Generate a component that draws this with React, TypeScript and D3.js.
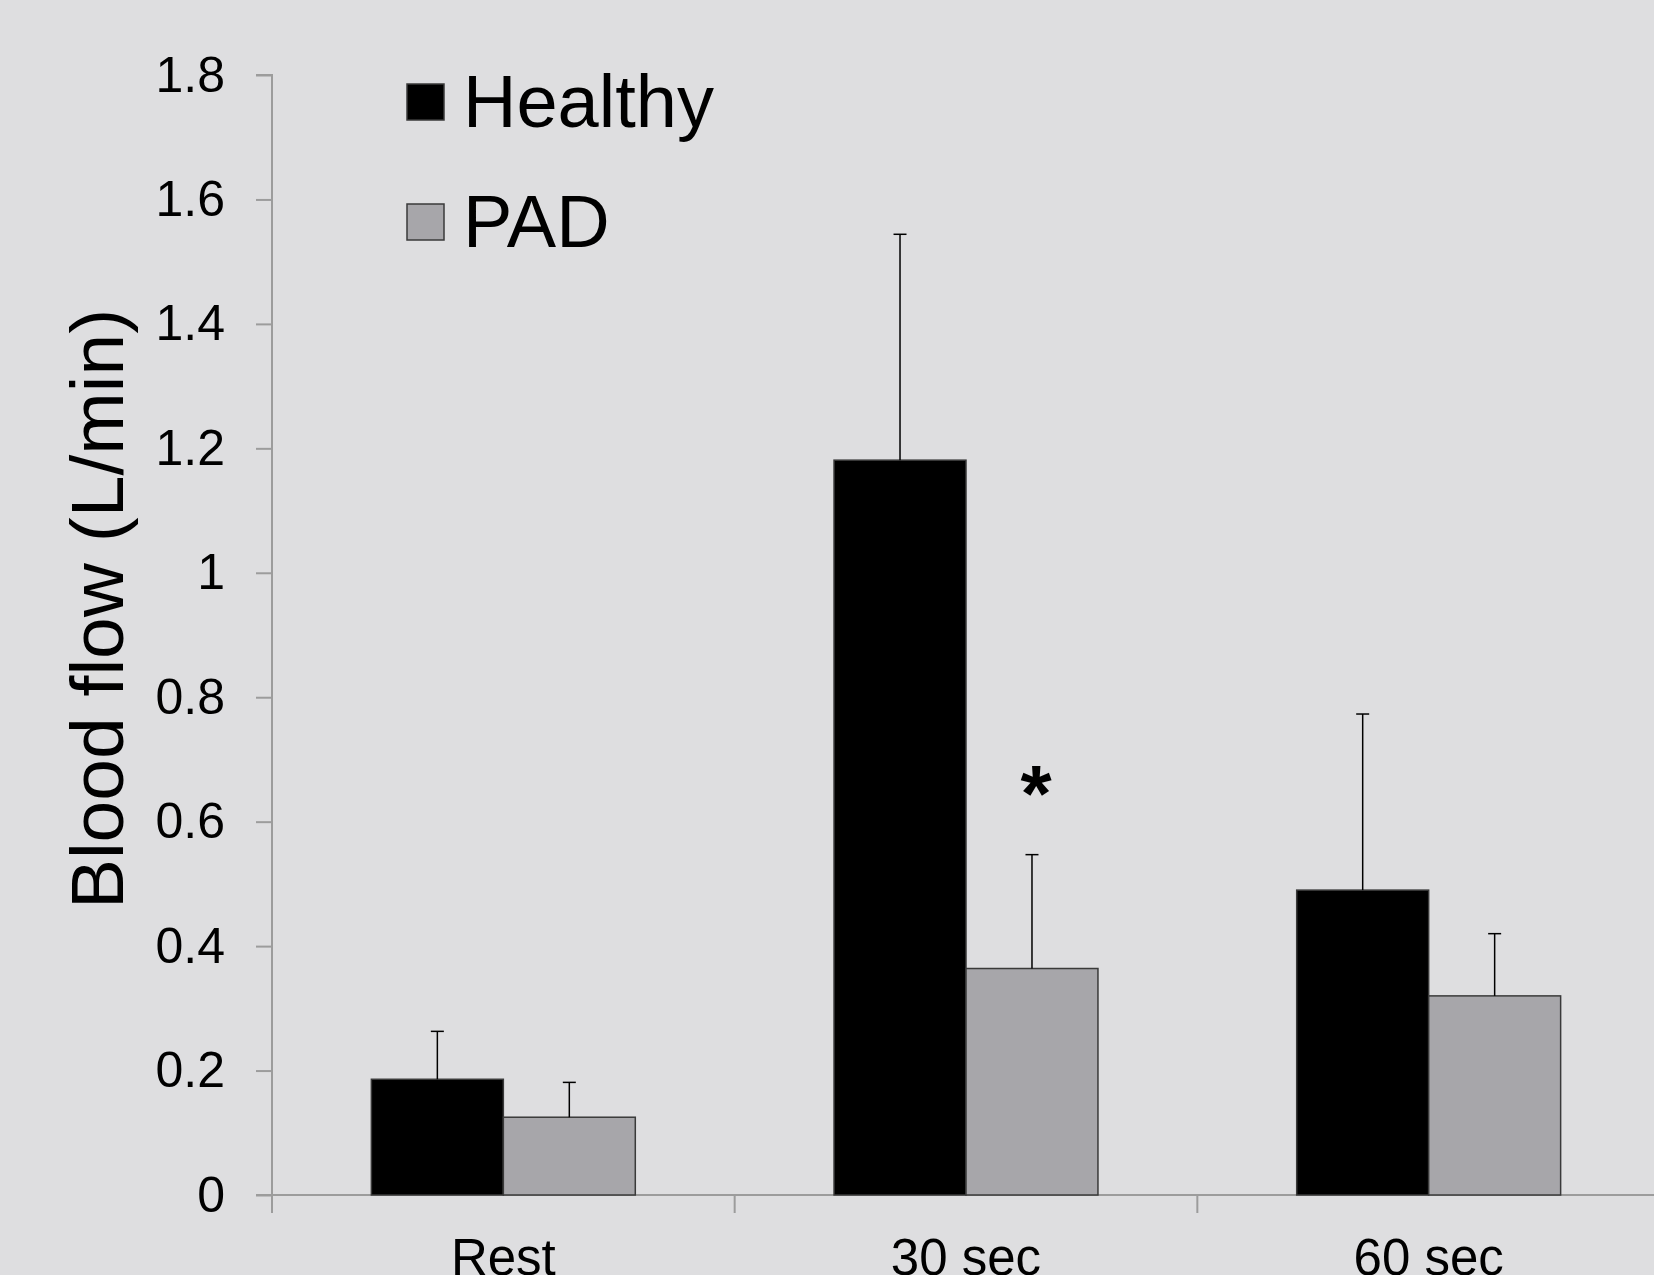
import { useEffect, useRef } from "react";
import * as d3 from "d3";

// data
const categories = ["Rest", "30 sec", "60 sec"];
const groups = ["Healthy", "PAD"];
const healthyMeans = [0.186, 1.181, 0.49];
const healthyErr = [0.077, 0.363, 0.283];
const padMeans = [0.125, 0.364, 0.32];
const padErr = [0.056, 0.183, 0.1];
const yTicks = [0, 0.2, 0.4, 0.6, 0.8, 1, 1.2, 1.4, 1.6, 1.8];
const significant = [{ category: "30 sec", group: "PAD" }];

const WIDTH = 1654;
const HEIGHT = 1275;
const BG = "#dedee0";
const AXIS = "#9c9c9c";
const colors = { Healthy: "#000000", PAD: "#a7a6aa" };
const FONT = "'Liberation Sans', Arial, sans-serif";

export default function App() {
  const ref = useRef<SVGSVGElement>(null);

  useEffect(() => {
    const svg = d3.select(ref.current);
    svg.selectAll("*").remove();

    svg.append("rect").attr("width", WIDTH).attr("height", HEIGHT).attr("fill", BG);

    const x0 = d3.scaleBand().domain(categories).range([272, 1660]).padding(0);
    const x1 = d3
      .scaleBand()
      .domain(groups)
      .range([0, x0.bandwidth()])
      .paddingInner(0)
      .paddingOuter(0.753);
    const y = d3.scaleLinear().domain([0, 1.8]).range([1195, 75]);

    const rows = categories.flatMap((c, i) => [
      { category: c, group: "Healthy", value: healthyMeans[i], err: healthyErr[i] },
      { category: c, group: "PAD", value: padMeans[i], err: padErr[i] },
    ]);

    // y axis
    const yAxis = svg
      .append("g")
      .attr("transform", `translate(${x0.range()[0]},0)`)
      .call(d3.axisLeft(y).tickValues(yTicks).tickSize(16).tickPadding(31).tickFormat(d3.format("~g")));
    yAxis.select(".domain").attr("stroke", AXIS).attr("stroke-width", 2).attr("d", `M-16,${y(1.8)}H0V${y(0)}`);
    yAxis.selectAll(".tick line").attr("stroke", AXIS).attr("stroke-width", 2);
    yAxis
      .selectAll(".tick text")
      .attr("fill", "#000")
      .style("font-family", FONT)
      .style("font-size", "50px");

    // x axis (category boundaries ticks)
    svg
      .append("line")
      .attr("x1", x0.range()[0] - 16)
      .attr("x2", WIDTH)
      .attr("y1", y(0))
      .attr("y2", y(0))
      .attr("stroke", AXIS)
      .attr("stroke-width", 2);
    svg
      .append("g")
      .selectAll("line")
      .data(categories)
      .join("line")
      .attr("x1", (d) => x0(d)!)
      .attr("x2", (d) => x0(d)!)
      .attr("y1", y(0))
      .attr("y2", y(0) + 18)
      .attr("stroke", AXIS)
      .attr("stroke-width", 2);
    svg
      .append("g")
      .selectAll("text")
      .data(categories)
      .join("text")
      .attr("x", (d) => x0(d)! + x0.bandwidth() / 2)
      .attr("y", 1275)
      .attr("text-anchor", "middle")
      .style("font-family", FONT)
      .style("font-size", "51px")
      .text((d) => d);

    // bars
    svg
      .append("g")
      .selectAll("rect")
      .data(rows)
      .join("rect")
      .attr("x", (d) => x0(d.category)! + x1(d.group)!)
      .attr("y", (d) => y(d.value))
      .attr("width", x1.bandwidth())
      .attr("height", (d) => y(0) - y(d.value))
      .attr("fill", (d) => colors[d.group])
      .attr("stroke", "#3a3a3a")
      .attr("stroke-width", 1.5);

    // error bars (upper only)
    const eb = svg.append("g").attr("stroke", "#000").attr("stroke-width", 1.5);
    rows.forEach((d) => {
      const cx = x0(d.category)! + x1(d.group)! + x1.bandwidth() / 2;
      eb.append("line").attr("x1", cx).attr("x2", cx).attr("y1", y(d.value)).attr("y2", y(d.value + d.err));
      eb.append("line")
        .attr("x1", cx - 6.5)
        .attr("x2", cx + 6.5)
        .attr("y1", y(d.value + d.err))
        .attr("y2", y(d.value + d.err));
    });

    // significance mark
    significant.forEach((s) => {
      const r = rows.find((d) => d.category === s.category && d.group === s.group)!;
      svg
        .append("text")
        .attr("x", x0(r.category)! + x1(r.group)! + x1.bandwidth() / 2 + 4)
        .attr("y", y(r.value + r.err) - 34)
        .attr("text-anchor", "middle")
        .style("font-family", FONT)
        .style("font-weight", "bold")
        .style("font-size", "80px")
        .text("*");
    });

    // y title
    svg
      .append("text")
      .attr("transform", "translate(123,609) rotate(-90)")
      .attr("text-anchor", "middle")
      .style("font-family", FONT)
      .style("font-size", "75px")
      .text("Blood flow (L/min)");

    // legend
    const legend = svg
      .append("g")
      .selectAll("g")
      .data(groups)
      .join("g")
      .attr("transform", (d, i) => `translate(407,${84 + i * 120})`);
    legend
      .append("rect")
      .attr("width", 37)
      .attr("height", 36)
      .attr("fill", (d) => colors[d])
      .attr("stroke", "#3a3a3a")
      .attr("stroke-width", 1.5);
    legend
      .append("text")
      .attr("x", 56)
      .attr("y", 43)
      .style("font-family", FONT)
      .style("font-size", "74px")
      .text((d) => d);
  }, []);

  return (
    <svg
      ref={ref}
      width={WIDTH}
      height={HEIGHT}
      style={{ position: "absolute", left: 0, top: 0, display: "block" }}
    />
  );
}
